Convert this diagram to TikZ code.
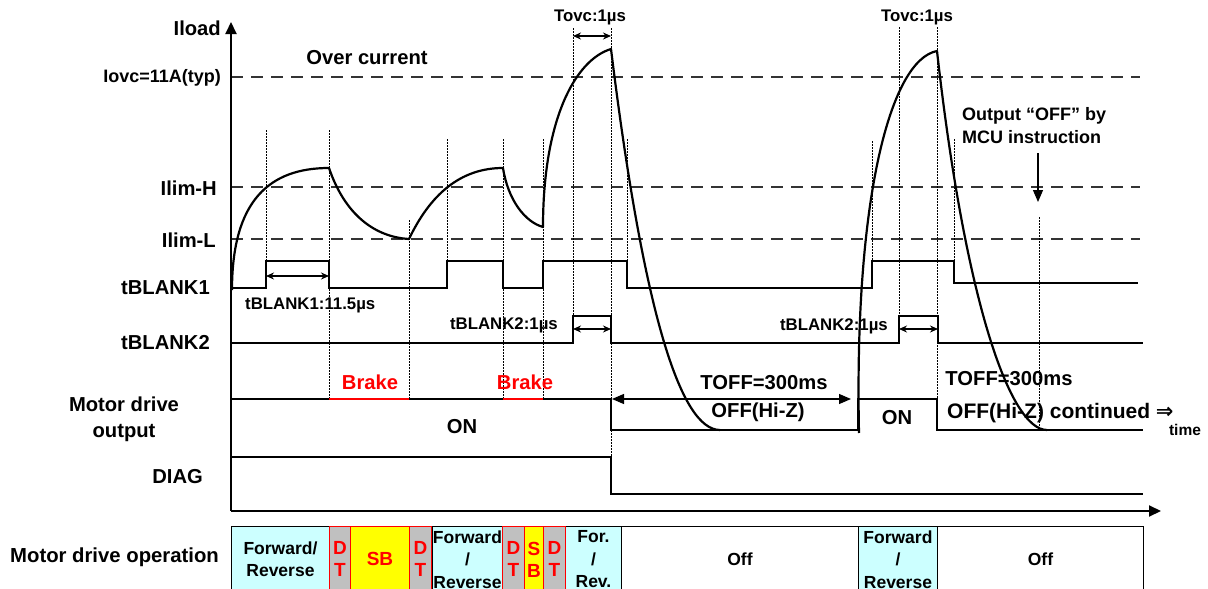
\documentclass[tikz,border=0pt]{standalone}
\usepackage{fontspec}
\setmainfont{Liberation Sans}
\newfontfamily\symfont{DejaVu Sans}
\usetikzlibrary{arrows.meta}
\definecolor{opcyan}{HTML}{CCFFFF}
\definecolor{opgray}{HTML}{C0C0C0}
\definecolor{opyellow}{HTML}{FFFF00}
\definecolor{brakered}{HTML}{FF0000}
\begin{document}
\begin{tikzpicture}[x=1pt,y=-1pt,
  lab/.style={inner sep=0pt,font=\bfseries\fontsize{20.2}{26}\selectfont},
  labm/.style={inner sep=0pt,font=\bfseries\fontsize{18}{23}\selectfont},
  labs/.style={inner sep=0pt,font=\bfseries\fontsize{16.8}{20}\selectfont},
  sig/.style={line width=1.3pt},
  wave/.style={line width=2.2pt,line join=round},
  lvl/.style={line width=1.4pt,dash pattern=on 12pt off 8pt,black!80},
  vdot/.style={line width=0.9pt,dash pattern=on 1.5pt off 1.5pt},
  dimarrow/.style={line width=1.2pt,{Stealth[length=8pt,width=7pt]}-{Stealth[length=8pt,width=7pt]}},
  bigarrow/.style={line width=1.2pt,{Triangle[length=12pt,width=10pt]}-{Triangle[length=12pt,width=10pt]}},
  axisline/.style={line width=2pt,-{Triangle[length=12pt,width=11pt]}},
  opbox/.style={draw=black,line width=0.9pt,anchor=north west,minimum height=66pt,inner sep=0pt,align=center,font=\bfseries\fontsize{17.5}{22.5}\selectfont},
  redbox/.style={opbox,draw=brakered,text=brakered,font=\bfseries\fontsize{19}{22}\selectfont}
]
\useasboundingbox (0,0) rectangle (1208,589);
\fill[white] (0,0) rectangle (1208,589);

% ---- level lines
\coordinate (ovcL) at (231,77);  \coordinate (ovcR) at (1140,77);
\coordinate (limHL) at (231,187); \coordinate (limHR) at (1140,187);
\coordinate (limLL) at (231,239); \coordinate (limLR) at (1140,239);
\draw[lvl] (ovcL) -- (ovcR);
\draw[lvl] (limHL) -- (limHR);
\draw[lvl] (limLL) -- (limLR);

% ---- dotted guides
\foreach \n/\x/\ya/\yb in {d1/266/130/261, d2/329/130/399, d3/409/220/399, d4/447/139/261,
  d5/503/139/399, d6/543/139/399, d7/573/28/316, d8/611/28/457, d9/627/139/261,
  d10/872/141/261, d11/899/27/316, d12/937/27/399, d13/954/139/261, d14/1039/217/430}{
  \coordinate (\n a) at (\x,\ya); \coordinate (\n b) at (\x,\yb);
  \draw[vdot] (\n a) -- (\n b);
}

% ---- tBLANK1
\draw[sig] (231,288) -- (266,288) -- (266,261) -- (329,261) -- (329,288) -- (447,288) -- (447,261)
  -- (503,261) -- (503,288) -- (543,288) -- (543,261) -- (627,261) -- (627,288) -- (872,288)
  -- (872,261) -- (954,261) -- (954,283) -- (1138,283);
% ---- tBLANK2
\draw[sig] (231,343) -- (573,343) -- (573,316) -- (611,316) -- (611,343) -- (899,343) -- (899,316)
  -- (938,316) -- (938,343) -- (1143,343);
% ---- Motor drive output
\draw[sig] (231,399) -- (329,399);
\draw[sig,brakered] (329,399) -- (409,399);
\draw[sig] (409,399) -- (503,399);
\draw[sig,brakered] (503,399) -- (543,399);
\draw[sig] (543,399) -- (611,399) -- (611,430) -- (858,430) -- (858,399) -- (937,399) -- (937,430) -- (1143,430);
% ---- DIAG
\draw[sig] (231,457) -- (611,457) -- (611,494) -- (1143,494);

% ---- axes
\coordinate (origin) at (231,511);
\coordinate (ytip) at (231,22);
\coordinate (xtip) at (1161,511);
\draw[axisline] (origin) -- (ytip);
\draw[axisline] (origin) -- (xtip);

% ---- load current waveform
\coordinate (w0) at (232,290);
\coordinate (w1) at (329,168);
\coordinate (w2) at (409,239);
\coordinate (w3) at (503,168);
\coordinate (w4) at (543,227);
\coordinate (w5) at (611,49);
\coordinate (w6) at (720,430);
\coordinate (w7) at (859,433);
\coordinate (w8) at (937,51);
\coordinate (w9) at (1047,430);
\draw[wave] (w0) .. controls (232,200) and (270,168) .. (w1)
  .. controls (345,215) and (375,237) .. (w2)
  .. controls (430,195) and (460,168) .. (w3)
  .. controls (508,200) and (525,222) .. (w4)
  .. controls (543,120) and (575,60) .. (w5)
  .. controls (643,309) and (680,430) .. (w6);
\draw[wave] (w7) .. controls (854,200) and (890,60) .. (w8)
  .. controls (965,301) and (1010,430) .. (w9);

% ---- dimension arrows
\coordinate (tb1a) at (266,276); \coordinate (tb1b) at (329,276);
\draw[dimarrow] (tb1a) -- (tb1b);
\coordinate (tb2a) at (573,329); \coordinate (tb2b) at (611,329);
\draw[dimarrow] (tb2a) -- (tb2b);
\coordinate (tb3a) at (899,329); \coordinate (tb3b) at (938,329);
\draw[dimarrow] (tb3a) -- (tb3b);
\coordinate (tova) at (573,36); \coordinate (tovb) at (611,36);
\draw[dimarrow] (tova) -- (tovb);
\coordinate (toffa) at (612,399); \coordinate (toffb) at (851,399);
\draw[bigarrow] (toffa) -- (toffb);
\coordinate (mcua) at (1038,153); \coordinate (mcub) at (1038,202);
\draw[line width=1.2pt,-{Triangle[length=12pt,width=10pt]}] (mcua) -- (mcub);

% ---- left labels
\node[lab,anchor=east] (Liload) at (221,28) {Iload};
\node[labm,anchor=east] (Liovc) at (221,78) {Iovc=11A(typ)};
\node[lab,anchor=east] (LlimH) at (217,188) {Ilim-H};
\node[lab,anchor=east] (LlimL) at (216,240) {Ilim-L};
\node[lab,anchor=east] (Ltb1) at (210,288) {tBLANK1};
\node[lab,anchor=east] (Ltb2) at (210,343) {tBLANK2};
\node[lab,align=center] (Lmot) at (124,419) {Motor drive\\output};
\node[lab,anchor=east] (Ldiag) at (203,477) {DIAG};
\node[lab,anchor=west,font=\bfseries\fontsize{20.3}{26}\selectfont] (Lop) at (10,557) {Motor drive operation};

% ---- other labels
\node[lab] (Lover) at (367,58) {Over current};
\node[labs] (Ltov1) at (590,17) {Tovc:1µs};
\node[labs] (Ltov2) at (917,17) {Tovc:1µs};
\node[labs,anchor=west] (Ltb1t) at (245,305) {tBLANK1:11.5µs};
\node[labs,anchor=east] (Ltb2t) at (558,325) {tBLANK2:1µs};
\node[labs,anchor=east] (Ltb2u) at (888,326) {tBLANK2:1µs};
\node[lab,text=brakered] (Lbr1) at (370,382) {Brake};
\node[lab,text=brakered] (Lbr2) at (525,382) {Brake};
\node[lab] (Ltoff1) at (764,383) {TOFF=300ms};
\node[lab] (Lhiz1) at (758,412) {OFF(Hi-Z)};
\node[lab] (Lon1) at (462,427) {ON};
\node[lab] (Lon2) at (897,418) {ON};
\node[lab] (Ltoff2) at (1009,379) {TOFF=300ms};
\node[lab,anchor=west,font=\bfseries\fontsize{21}{26}\selectfont] (Lhiz2) at (947,413) {OFF(Hi-Z) continued {\symfont ⇒}};
\node[inner sep=0pt,font=\bfseries\fontsize{15.5}{17}\selectfont] (Ltime) at (1185,430) {time};
\node[labm,anchor=west,align=left] (Lmcu) at (962,126) {Output “OFF” by\\MCU instruction};

% ---- motor drive operation bar
\node[opbox,fill=opcyan,minimum width=98pt] (b1) at (231,526) {Forward/\\Reverse};
\node[opbox,fill=opcyan,minimum width=70pt] (b5) at (432,526) {Forward\\/\\Reverse};
\node[opbox,fill=opcyan,minimum width=56pt] (b9) at (565,526) {For.\\/\\Rev.};
\node[opbox,fill=white,minimum width=237pt] (b10) at (621,526) {Off};
\node[opbox,fill=opcyan,minimum width=79pt] (b11) at (858,526) {Forward\\/\\Reverse};
\node[opbox,fill=white,minimum width=206pt] (b12) at (937,526) {Off};
\node[redbox,fill=opgray,minimum width=21pt] (b2) at (329,526) {D\\T};
\node[redbox,fill=opyellow,minimum width=59pt] (b3) at (350,526) {SB};
\node[redbox,fill=opgray,minimum width=22pt] (b4) at (409,526) {D\\T};
\node[redbox,fill=opgray,minimum width=22pt] (b6) at (502,526) {D\\T};
\node[redbox,fill=opyellow,minimum width=19pt] (b7) at (524,526) {S\\B};
\node[redbox,fill=opgray,minimum width=22pt] (b8) at (543,526) {D\\T};
\end{tikzpicture}
\end{document}
